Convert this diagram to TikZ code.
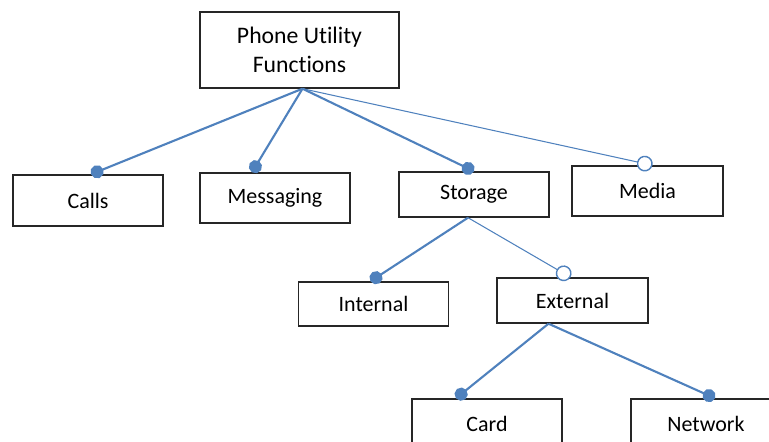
\documentclass[tikz,border=0pt]{standalone}
\usepackage{fontspec}
\setmainfont[Ligatures=NoCommon]{Carlito}
\usetikzlibrary{arrows.meta,calc}
\definecolor{linkblue}{RGB}{79,129,189}
\tikzset{
  box/.style={draw=black!85, line width=0.8pt, rectangle, minimum width=3cm,
    minimum height=0.95cm, inner sep=2pt, align=center,
    font=\fontsize{12.5}{14}\selectfont},
  link/.style={draw=linkblue, line width=1.2pt, -{Circle[length=7.5pt]}},
  optlink/.style={draw=linkblue, line width=0.6pt,
    -{Circle[open,length=9pt,line width=0.8pt,fill=white]}}
}

\begin{document}
\begin{tikzpicture}[x=0.02cm,y=-0.02cm]
\useasboundingbox (0,0) rectangle (769,442);
\node[box, minimum width=3.98cm, minimum height=1.52cm,
  font=\fontsize{13.5}{16.5}\selectfont] (root) at (299.5,50) {Phone Utility\\Functions};

\node[box, minimum height=1.02cm] (calls) at (88,200.5) {Calls};
\node[box, minimum height=1cm] (msg) at (275,198) {Messaging};
\node[box, minimum height=0.9cm] (storage) at (474,194.5) {Storage};
\node[box, minimum width=3.02cm, minimum height=1cm] (media) at (647.5,191) {Media};

\node[box, minimum height=0.88cm] (internal) at (373.5,304) {Internal};
\node[box, minimum width=3.02cm, minimum height=0.9cm] (external) at (572.5,300.5) {External};

\node[box, minimum height=1cm] (card) at (487,424) {Card};
\node[box, minimum height=1cm] (network) at (706,424) {Network};

% hubs under the boxes
\coordinate (hub) at ($(root.south)+(3,0)$);
\coordinate (storehub) at ($(storage.south)+(-6,0)$);
\coordinate (exthub) at ($(external.south)+(-24,0)$);

\draw[link] (hub) -- ($(calls.north)+(3,0)$);
\draw[link] (hub) -- ($(msg.north)+(-23,0)$);
\draw[link] (hub) -- (storage.north);
\draw[optlink] (hub) -- ($(media.north)+(5,0)$);

\draw[link] (storehub) -- ($(internal.north)+(-3,0)$);
\draw[optlink] (storehub) -- ($(external.north)+(-2,0)$);

\draw[link] (exthub) -- ($(card.north)+(-31,0)$);
\draw[link] (exthub) -- ($(network.north)+(9,0)$);
\end{tikzpicture}
\end{document}
